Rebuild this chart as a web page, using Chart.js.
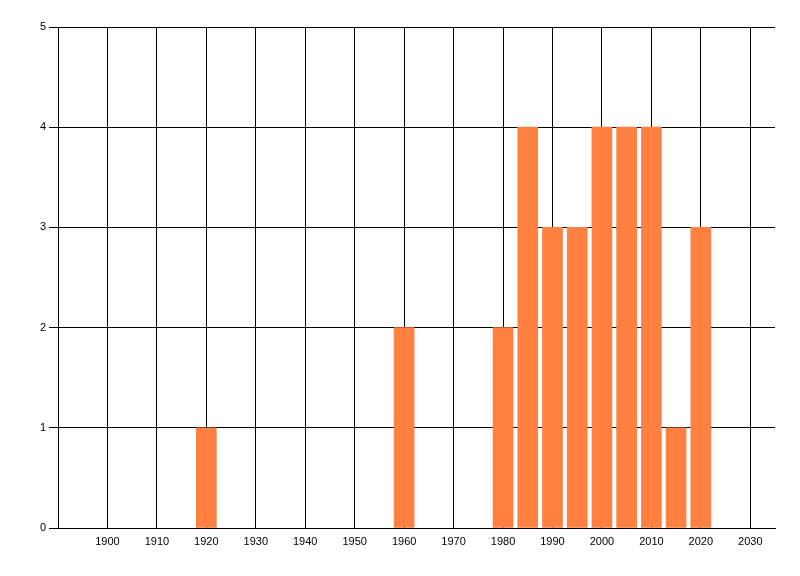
<!DOCTYPE html>
<html>
<head>
<meta charset="utf-8">
<script src="https://cdn.jsdelivr.net/npm/chart.js@4"></script>
<style>
  html, body { margin: 0; padding: 0; background: #fff; }
  #wrap { width: 800px; height: 576px; }
</style>
</head>
<body>
<div id="wrap"><canvas id="chart" width="800" height="576"></canvas></div>
<script>
// values
const years = [1920, 1960, 1980, 1985, 1990, 1995, 2000, 2005, 2010, 2015, 2020];
const counts = [1, 2, 2, 4, 3, 3, 4, 4, 4, 1, 3];
const xTicks = [1900, 1910, 1920, 1930, 1940, 1950, 1960, 1970, 1980, 1990, 2000, 2010, 2020, 2030];
const yTicks = [0, 1, 2, 3, 4, 5];

const points = years.map((y, i) => ({ x: y, y: counts[i] }));

const ctx = document.getElementById('chart').getContext('2d');
new Chart(ctx, {
  type: 'bar',
  data: {
    datasets: [{
      data: points,
      backgroundColor: '#FF8040',
      borderWidth: 0,
      barThickness: 20
    }]
  },
  options: {
    responsive: false,
    animation: false,
    layout: { padding: { top: 27, right: 25, left: 0, bottom: 0 } },
    plugins: { legend: { display: false }, tooltip: { enabled: false } },
    scales: {
      x: {
        type: 'linear',
        min: 1890,
        max: 2035,
        offset: false,
        afterBuildTicks: s => { s.ticks = xTicks.map(v => ({ value: v })); },
        afterFit: s => { s.height = 48; },
        grid: { color: '#000', lineWidth: 1, drawTicks: false, offset: false },
        border: { color: '#000', width: 1 },
        ticks: { color: '#000', padding: 7, maxRotation: 0, autoSkip: false,
                 callback: v => String(v),
                 font: { family: 'Liberation Sans', size: 11 } }
      },
      y: {
        min: 0,
        max: 5,
        afterBuildTicks: s => { s.ticks = yTicks.map(v => ({ value: v })); },
        afterFit: s => { s.width = 58; },
        grid: { color: '#000', lineWidth: 1, tickLength: 9 },
        border: { color: '#000', width: 1 },
        ticks: { color: '#000', padding: 3,
                 callback: v => String(v),
                 font: { family: 'Liberation Sans', size: 11 } }
      }
    }
  }
});
</script>
</body>
</html>
